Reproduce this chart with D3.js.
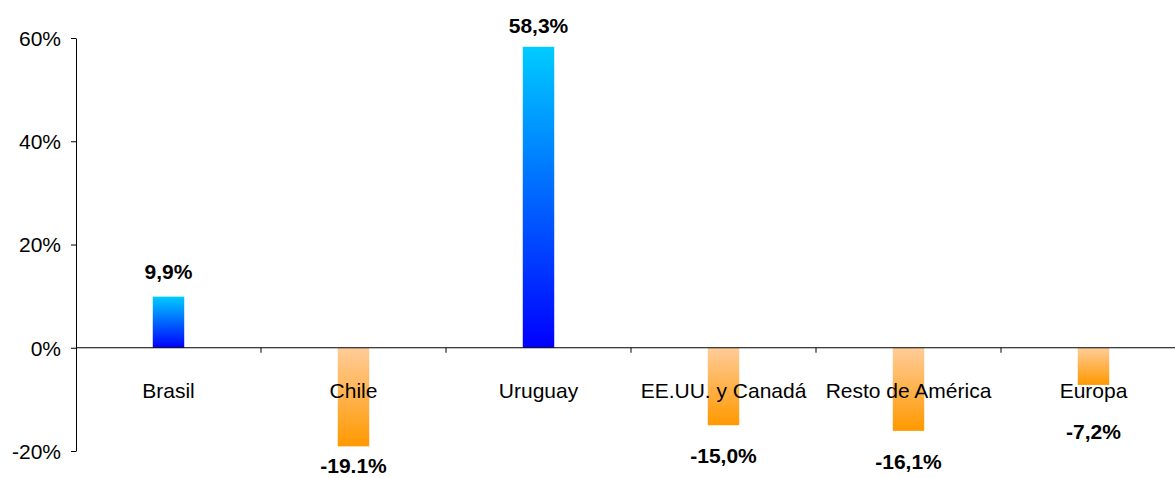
<!DOCTYPE html>
<html>
<head>
<meta charset="utf-8">
<script src="https://cdn.jsdelivr.net/npm/d3@7"></script>
<style>
    body { margin: 0; background: #fff; }
    svg { display: block; font-family: Arial, "Liberation Sans", sans-serif; }
</style>
</head>
<body>
<svg id="chart" width="1175" height="478"></svg>
<script>
const categories = ["Brasil", "Chile", "Uruguay", "EE.UU. y Canadá", "Resto de América", "Europa"];
const values = [9.9, -19.1, 58.3, -15.0, -16.1, -7.2];
const valueLabels = ["9,9%", "-19.1%", "58,3%", "-15,0%", "-16,1%", "-7,2%"];
const yTicks = [-20, 0, 20, 40, 60];

const svg = d3.select("#chart");
const margin = {top: 38, left: 76, bottom: 27};
const bandWidth = 185;

const x = d3.scaleBand()
    .domain(categories)
    .range([margin.left, margin.left + bandWidth * categories.length])
    .paddingInner(0.83)
    .paddingOuter(0.415);

const y = d3.scaleLinear()
    .domain([-20, 60])
    .range([451, margin.top]);

// gradients
const defs = svg.append("defs");
function addGradient(id, top, bottom) {
    const g = defs.append("linearGradient")
        .attr("id", id)
        .attr("x1", 0).attr("y1", 0).attr("x2", 0).attr("y2", 1);
    g.append("stop").attr("offset", "0%").attr("stop-color", top);
    g.append("stop").attr("offset", "100%").attr("stop-color", bottom);
}
addGradient("pos", "#00CCFF", "#0000FF");
addGradient("neg", "#FFCC99", "#FF9900");

// bars
svg.selectAll("rect.bar")
    .data(values)
    .enter().append("rect")
    .attr("class", "bar")
    .attr("x", (d, i) => x(categories[i]))
    .attr("width", x.bandwidth())
    .attr("y", d => y(Math.max(0, d)))
    .attr("height", d => Math.abs(y(d) - y(0)))
    .attr("fill", d => d >= 0 ? "url(#pos)" : "url(#neg)");

// y axis
const yAxis = svg.append("g")
    .attr("transform", `translate(${margin.left},0)`)
    .call(d3.axisLeft(y).tickValues(yTicks).tickSize(5).tickSizeOuter(0).tickFormat(d => d + "%"));
yAxis.select(".domain").attr("stroke", "#000");
yAxis.selectAll("text")
    .attr("font-size", 21)
    .attr("font-family", "Arial, 'Liberation Sans', sans-serif")
    .attr("fill", "#000")
    .attr("x", -15)
    .attr("dy", "0.35em");

// x axis at zero
const xAxis = svg.append("g")
    .attr("transform", `translate(0,${y(0)})`);
xAxis.append("line")
    .attr("x1", margin.left)
    .attr("x2", margin.left + bandWidth * categories.length)
    .attr("stroke", "#000");
xAxis.selectAll("line.tick")
    .data(categories.slice(1))
    .enter().append("line")
    .attr("class", "tick")
    .attr("x1", d => x(d) - x.step() * 0.415)
    .attr("x2", d => x(d) - x.step() * 0.415)
    .attr("y1", 0).attr("y2", 5)
    .attr("stroke", "#000");

// category labels
svg.selectAll("text.cat")
    .data(categories)
    .enter().append("text")
    .attr("class", "cat")
    .attr("x", d => x(d) + x.bandwidth() / 2)
    .attr("y", y(0) + 50)
    .attr("text-anchor", "middle")
    .attr("font-size", 21)
    .attr("fill", "#000")
    .text(d => d);

// value labels
svg.selectAll("text.val")
    .data(values)
    .enter().append("text")
    .attr("class", "val")
    .attr("x", (d, i) => x(categories[i]) + x.bandwidth() / 2)
    .attr("y", d => d >= 0 ? Math.max(33, y(d) - 18) : Math.min(473, Math.max(y(0) + 91, y(d) + 38)))
    .attr("text-anchor", "middle")
    .attr("font-size", 21)
    .attr("font-weight", "bold")
    .attr("fill", "#000")
    .text((d, i) => valueLabels[i]);
</script>
</body>
</html>
